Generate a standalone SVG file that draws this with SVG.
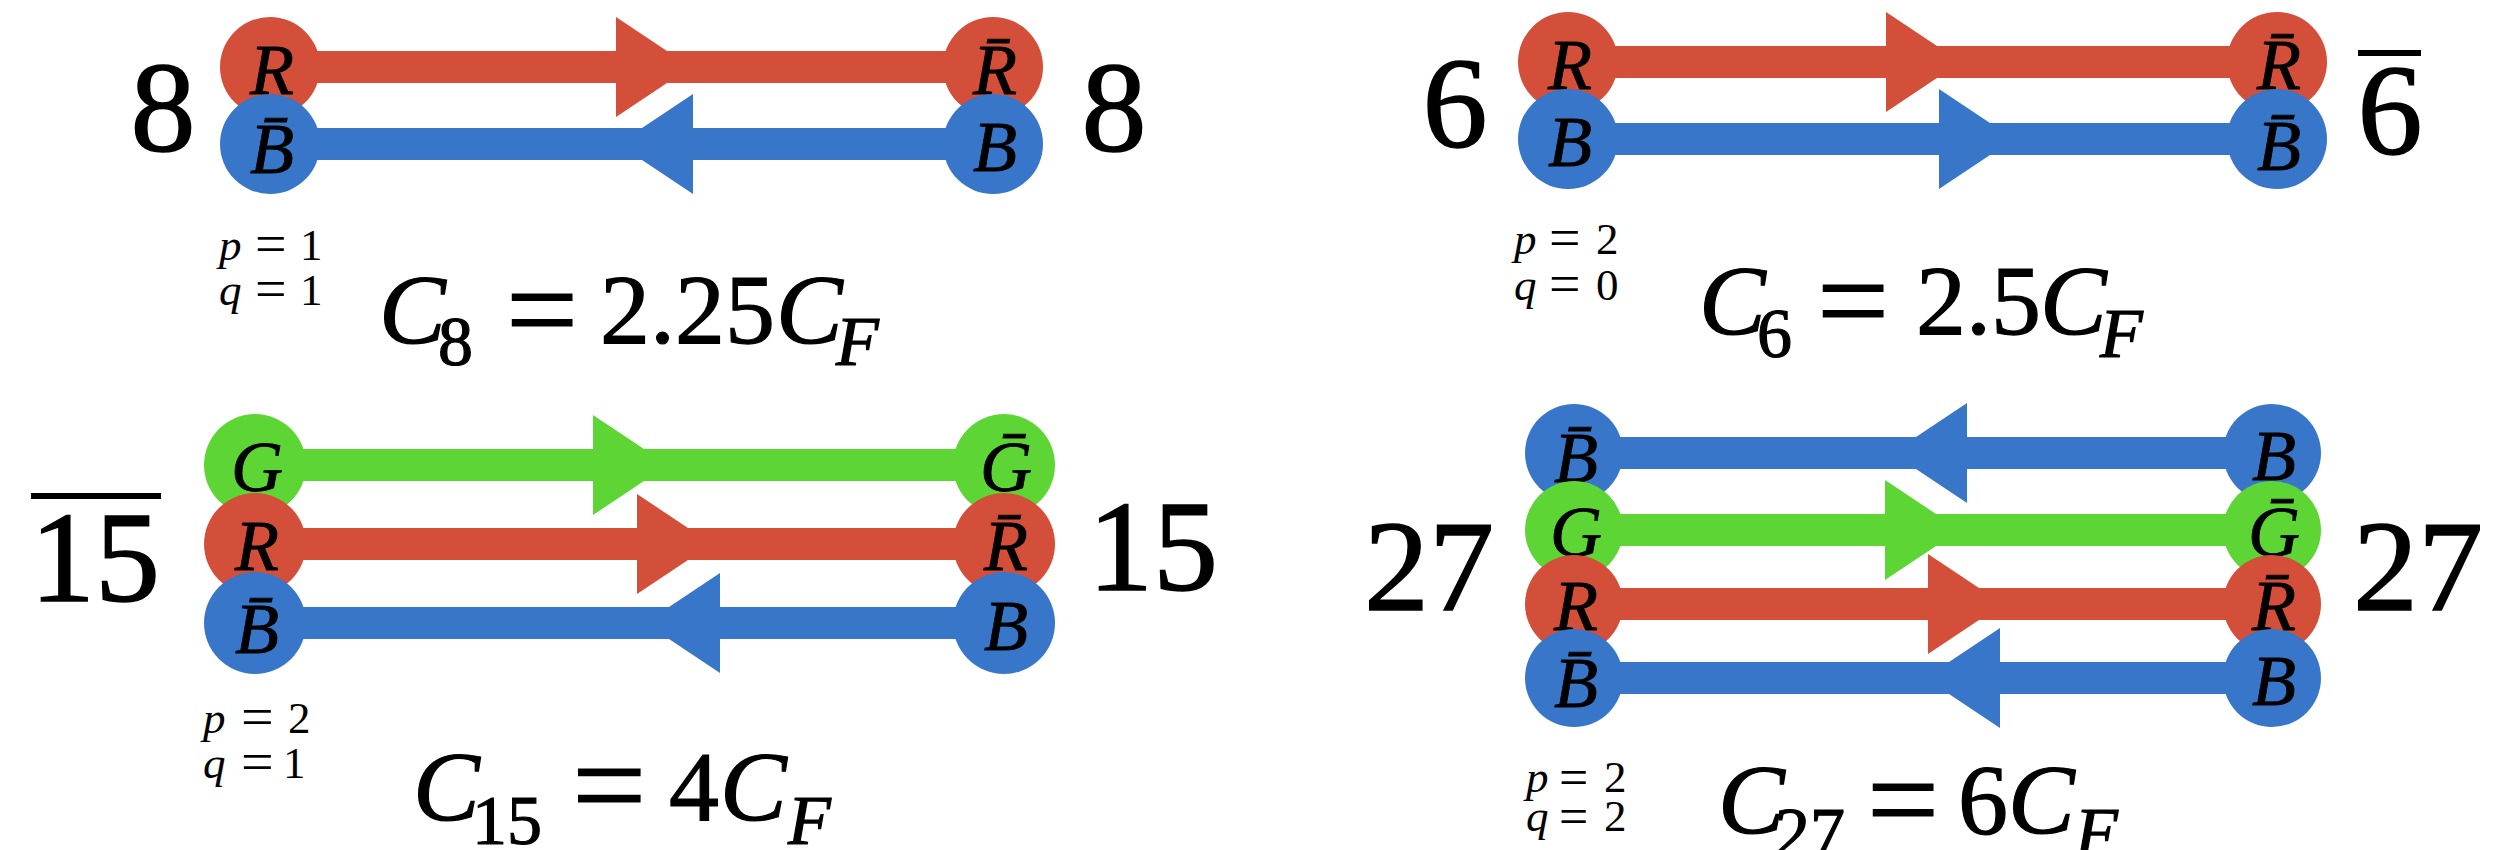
<svg xmlns="http://www.w3.org/2000/svg" width="2495" height="850" viewBox="0 0 2495 850">
<style>
  .bar{stroke-width:32;fill:none}
  .sr{stroke:#D34F3A} .sb{stroke:#3876C9} .sg{stroke:#5DD535}
  .fr{fill:#D34F3A} .fb{fill:#3876C9} .fg{fill:#5DD535}
  text{font-family:"Liberation Serif","Times New Roman",serif;fill:#000}
  .lab{font-size:72px;font-style:italic;text-anchor:middle;stroke:#000;stroke-width:0.8}
  .big{font-size:130px;text-anchor:middle;stroke:#000;stroke-width:1.5}
  .pq{font-size:45px}
  .eq{font-size:100px;stroke:#000;stroke-width:1.2}
  .sub{font-size:70px}
  .it{font-style:italic}
  .ovl{stroke:#000;stroke-width:6}
</style>
<defs>
  <path id="ah" d="M0,-50 L75,0 L0,50 Z"/>
</defs>
<rect width="2495" height="850" fill="#fff"/>

<g id="connectors">
  <line class="bar sr" x1="270" y1="67" x2="993" y2="67"/>
  <use href="#ah" class="fr" transform="translate(616,67)"/>
  <line class="bar sb" x1="270" y1="144" x2="993" y2="144"/>
  <use href="#ah" class="fb" transform="translate(693,144) scale(-1,1)"/>
  <line class="bar sr" x1="1568" y1="62" x2="2277" y2="62"/>
  <use href="#ah" class="fr" transform="translate(1886,62)"/>
  <line class="bar sb" x1="1568" y1="139" x2="2277" y2="139"/>
  <use href="#ah" class="fb" transform="translate(1939,139)"/>
  <line class="bar sg" x1="255" y1="465" x2="1004" y2="465"/>
  <use href="#ah" class="fg" transform="translate(593,465)"/>
  <line class="bar sr" x1="255" y1="544" x2="1004" y2="544"/>
  <use href="#ah" class="fr" transform="translate(637,544)"/>
  <line class="bar sb" x1="255" y1="623" x2="1004" y2="623"/>
  <use href="#ah" class="fb" transform="translate(720,623) scale(-1,1)"/>
  <line class="bar sb" x1="1574" y1="453" x2="2272" y2="453"/>
  <use href="#ah" class="fb" transform="translate(1967,453) scale(-1,1)"/>
  <line class="bar sg" x1="1574" y1="530" x2="2272" y2="530"/>
  <use href="#ah" class="fg" transform="translate(1885,530)"/>
  <line class="bar sr" x1="1574" y1="604" x2="2272" y2="604"/>
  <use href="#ah" class="fr" transform="translate(1928,604)"/>
  <line class="bar sb" x1="1574" y1="678" x2="2272" y2="678"/>
  <use href="#ah" class="fb" transform="translate(2000,678) scale(-1,1)"/>
</g>

<g id="p1-R"><circle class="fr" cx="270" cy="67" r="50"/><text class="lab" x="272" y="94">R</text></g>
<g id="p1-Bbar"><circle class="fb" cx="270" cy="144" r="50"/><text class="lab" x="272" y="173">B̄</text></g>
<g id="p1-Rbar"><circle class="fr" cx="993" cy="67" r="50"/><text class="lab" x="995" y="94">R̄</text></g>
<g id="p1-B"><circle class="fb" cx="993" cy="144" r="50"/><text class="lab" x="995" y="171">B</text></g>
<g id="p1-labels">
  <text class="big" x="163" y="151">8</text>
  <text class="big" x="1114" y="151">8</text>
  <text class="pq" y="260"><tspan class="it" x="219">p</tspan><tspan x="255" font-size="56" y="263">=</tspan><tspan x="300" y="260">1</tspan></text>
  <text class="pq" y="305"><tspan class="it" x="219">q</tspan><tspan x="255" font-size="56" y="308">=</tspan><tspan x="300" y="305">1</tspan></text>
  <text class="eq" y="343"><tspan class="it" x="379">C</tspan><tspan class="sub" x="438" y="365">8</tspan><tspan x="506" y="352" font-size="128">=</tspan><tspan x="600" y="343">2.25</tspan><tspan class="it" x="776">C</tspan><tspan class="it sub" x="836" y="365">F</tspan></text>
</g>

<g id="p2-R"><circle class="fr" cx="1568" cy="62" r="50"/><text class="lab" x="1570" y="89">R</text></g>
<g id="p2-B"><circle class="fb" cx="1568" cy="139" r="50"/><text class="lab" x="1570" y="166">B</text></g>
<g id="p2-Rbar"><circle class="fr" cx="2277" cy="62" r="50"/><text class="lab" x="2279" y="89">R̄</text></g>
<g id="p2-Bbar"><circle class="fb" cx="2277" cy="139" r="50"/><text class="lab" x="2279" y="170">B̄</text></g>
<g id="p2-labels">
  <text class="big" x="1455" y="147">6</text>
  <text class="big" x="2390" y="154">6</text>
  <line class="ovl" x1="2358" y1="53" x2="2421" y2="53"/>
  <text class="pq" y="254"><tspan class="it" x="1514">p</tspan><tspan x="1549" font-size="56" y="257">=</tspan><tspan x="1596" y="254">2</tspan></text>
  <text class="pq" y="300"><tspan class="it" x="1514">q</tspan><tspan x="1549" font-size="56" y="303">=</tspan><tspan x="1596" y="300">0</tspan></text>
  <text class="eq" y="334"><tspan class="it" x="1699">C</tspan><tspan class="sub" x="1757" y="357">6</tspan><tspan x="1817" y="343" font-size="128">=</tspan><tspan x="1916" y="334">2.5</tspan><tspan class="it" x="2040">C</tspan><tspan class="it sub" x="2100" y="357">F</tspan></text>
</g>

<g id="p3-G"><circle class="fg" cx="255" cy="465" r="51"/><text class="lab" x="257" y="491">G</text></g>
<g id="p3-R"><circle class="fr" cx="255" cy="544" r="51"/><text class="lab" x="257" y="570">R</text></g>
<g id="p3-Bbar"><circle class="fb" cx="255" cy="623" r="51"/><text class="lab" x="257" y="653">B̄</text></g>
<g id="p3-Gbar"><circle class="fg" cx="1004" cy="465" r="51"/><text class="lab" x="1006" y="491">Ḡ</text></g>
<g id="p3-Rbar"><circle class="fr" cx="1004" cy="544" r="51"/><text class="lab" x="1006" y="570">R̄</text></g>
<g id="p3-B"><circle class="fb" cx="1004" cy="623" r="51"/><text class="lab" x="1006" y="650">B</text></g>
<g id="p3-labels">
  <text class="big" x="95" y="601" font-size="136">15</text>
  <line class="ovl" x1="31" y1="496" x2="161" y2="496"/>
  <text class="big" x="1153" y="590" font-size="136">15</text>
  <text class="pq" y="733" font-size="47"><tspan class="it" x="203">p</tspan><tspan x="241" font-size="58" y="736">=</tspan><tspan x="288" y="733">2</tspan></text>
  <text class="pq" y="778" font-size="47"><tspan class="it" x="203">q</tspan><tspan x="241" font-size="58" y="781">=</tspan><tspan x="283" y="778">1</tspan></text>
  <text class="eq" y="820" font-size="104"><tspan class="it" x="413">C</tspan><tspan class="sub" x="472" y="844" font-size="74">15</tspan><tspan x="572" y="829" font-size="132">=</tspan><tspan x="669" y="820">4</tspan><tspan class="it" x="720">C</tspan><tspan class="it sub" x="788" y="844" font-size="74">F</tspan></text>
</g>

<g id="p4-Bbar1"><circle class="fb" cx="1574" cy="453" r="49"/><text class="lab" x="1576" y="482">B̄</text></g>
<g id="p4-G"><circle class="fg" cx="1574" cy="530" r="49"/><text class="lab" x="1576" y="556">G</text></g>
<g id="p4-R"><circle class="fr" cx="1574" cy="604" r="49"/><text class="lab" x="1576" y="630">R</text></g>
<g id="p4-Bbar2"><circle class="fb" cx="1574" cy="678" r="49"/><text class="lab" x="1576" y="707">B̄</text></g>
<g id="p4-B1"><circle class="fb" cx="2272" cy="453" r="49"/><text class="lab" x="2274" y="480">B</text></g>
<g id="p4-Gbar"><circle class="fg" cx="2272" cy="530" r="49"/><text class="lab" x="2274" y="556">Ḡ</text></g>
<g id="p4-Rbar"><circle class="fr" cx="2272" cy="604" r="49"/><text class="lab" x="2274" y="630">R̄</text></g>
<g id="p4-B2"><circle class="fb" cx="2272" cy="678" r="49"/><text class="lab" x="2274" y="705">B</text></g>
<g id="p4-labels">
  <text class="big" x="1429" y="610" font-size="122">27</text>
  <text class="big" x="2418" y="610" font-size="122">27</text>
  <text class="pq" y="792" font-size="42"><tspan class="it" x="1526">p</tspan><tspan x="1559" font-size="52" y="795">=</tspan><tspan x="1604" y="792">2</tspan></text>
  <text class="pq" y="831" font-size="42"><tspan class="it" x="1526">q</tspan><tspan x="1559" font-size="52" y="834">=</tspan><tspan x="1604" y="831">2</tspan></text>
  <text class="eq" y="833"><tspan class="it" x="1718">C</tspan><tspan class="sub" x="1775" y="856">27</tspan><tspan x="1867" y="842" font-size="128">=</tspan><tspan x="1958" y="833">6</tspan><tspan class="it" x="2008">C</tspan><tspan class="it sub" x="2075" y="856">F</tspan></text>
</g>
</svg>
